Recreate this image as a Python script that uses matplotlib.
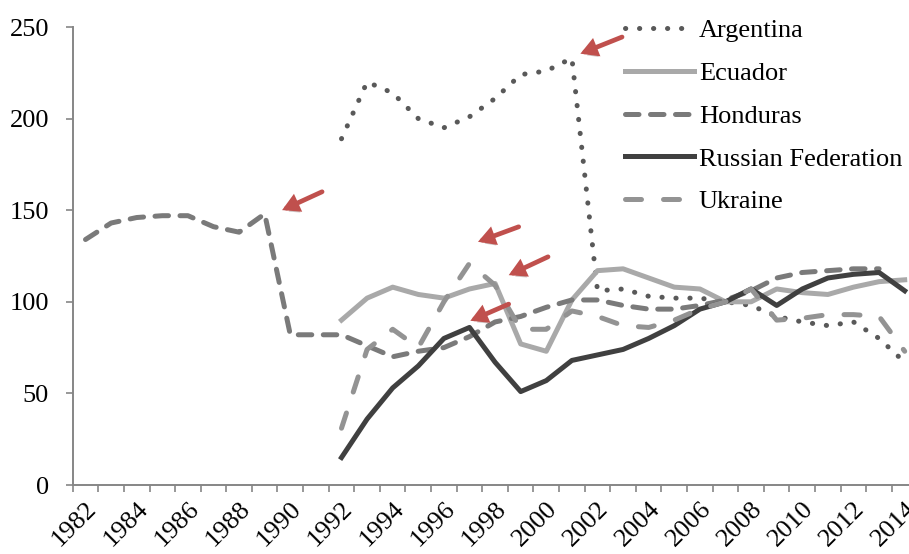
import numpy as np
import matplotlib
matplotlib.use("Agg")
import matplotlib.pyplot as plt
import matplotlib.patheffects as pe
from matplotlib.transforms import offset_copy

plt.rcParams['font.family'] = ['Liberation Serif', 'DejaVu Serif']

# ---- data -------------------------------------------------------------
years = list(range(1982, 2015))
tick_labels = [str(y) for y in years[::2]]

argentina_years = list(range(1992, 2015))
argentina = [189, 220, 214, 200, 195, 201, 211, 224, 226, 233, 106, 107,
             103, 102, 102, 100, 98, 92, 89, 87, 89, 80, 67]

ecuador_years = list(range(1992, 2015))
ecuador = [90, 102, 108, 104, 102, 107, 110, 77, 73, 101, 117, 118,
           113, 108, 107, 100, 100, 107, 105, 104, 108, 111, 112]

honduras_years = list(range(1982, 2014))
honduras = [134, 143, 146, 147, 147, 141, 138, 148, 82, 82, 82, 76,
            70, 73, 75, 81, 89, 92, 97, 101, 101, 98, 96, 96,
            98, 101, 106, 113, 116, 117, 118, 118]

russia_years = list(range(1992, 2015))
russia = [15, 36, 53, 65, 80, 86, 67, 51, 57, 68, 71, 74,
          80, 87, 96, 100, 107, 98, 107, 113, 115, 116, 106]

ukraine_years = list(range(1992, 2015))
ukraine = [31, 74, 85, 75, 100, 121, 109, 85, 85, 95, 92, 87,
           86, 90, 96, 100, 107, 90, 91, 93, 93, 92, 73]

# ---- figure -----------------------------------------------------------
fig = plt.figure(figsize=(9.09, 5.54), dpi=100)
ax = fig.add_axes([72.7 / 909, 69 / 554, (917.5 - 72.7) / 909, 458 / 554])

def idx(ys):
    return [y - years[0] for y in ys]

lw = 3.6
ax.plot(idx(argentina_years), argentina, color='#595959', lw=lw,
        linestyle=(0, (0.05, 2.75)), dash_capstyle='round',
        label='Argentina')
ax.plot(idx(ecuador_years), ecuador, color='#a9a9a9', lw=lw,
        solid_joinstyle='round', label='Ecuador')
ax.plot(idx(honduras_years), honduras, color='#7a7a7a', lw=lw,
        linestyle=(0, (2.7, 2.3)), dash_capstyle='round',
        label='Honduras')
ax.plot(idx(russia_years), russia, color='#404040', lw=lw,
        solid_joinstyle='round', label='Russian Federation')
ax.plot(idx(ukraine_years), ukraine, color='#939393', lw=lw,
        linestyle=(0, (3.2, 4.4)), dash_capstyle='round',
        label='Ukraine')

# ---- axes styling -----------------------------------------------------
axis_grey = '#868686'
ax.set_xlim(-0.5, len(years) - 0.5)
ax.set_ylim(0, 250)
ax.set_yticks([0, 50, 100, 150, 200, 250])
ax.tick_params(axis='y', labelsize=19, length=5, width=1.2,
               color=axis_grey, pad=12)

ax.set_xticks(np.arange(0, len(years), 2))
ax.set_xticklabels(tick_labels, rotation=45, ha='right',
                   rotation_mode='anchor', fontsize=19)
ax.set_xticks(np.arange(-0.5, len(years), 1), minor=True)
ax.tick_params(axis='x', which='major', length=0, pad=9)
ax.tick_params(axis='x', which='minor', length=5, width=1.2,
               color=axis_grey)

for side in ('top', 'right'):
    ax.spines[side].set_visible(False)
for side in ('left', 'bottom'):
    ax.spines[side].set_color(axis_grey)
    ax.spines[side].set_linewidth(1.4)

# ---- legend -----------------------------------------------------------
leg = ax.legend(loc='upper left', bbox_to_anchor=(625 / 909, 1 - 19 / 554),
                bbox_transform=fig.transFigure, frameon=False, fontsize=19,
                handlelength=2.6, handletextpad=0.2, labelspacing=0.73,
                borderpad=0, borderaxespad=0)

# ---- pointer arrows ---------------------------------------------------
red = '#c0504d'

def pointer(year, value, tip_pt, tail_pt):
    tip_tr = offset_copy(ax.transData, fig=fig, x=tip_pt[0], y=tip_pt[1],
                         units='points')
    ax.annotate('', xy=(year - years[0], value), xycoords=tip_tr,
                xytext=tail_pt, textcoords='offset points',
                arrowprops=dict(arrowstyle='-|>,head_length=0.75,head_width=0.42',
                                lw=3.4, color=red, shrinkA=0, shrinkB=0,
                                mutation_scale=10, joinstyle='miter',
                                path_effects=[pe.SimplePatchShadow(offset=(1.5, -2.5),
                                                                   alpha=0.25),
                                              pe.Normal()]))

pointer(2001, argentina[argentina_years.index(2001)], (6.1, 3.2), (30, 12))
pointer(1989, honduras[honduras_years.index(1989)], (12.5, 2.7), (28.8, 13.2))
pointer(1997, ukraine[ukraine_years.index(1997)], (6.1, 15.5), (29.3, 10.8))
pointer(1998, ecuador[ecuador_years.index(1998)], (9.8, 6.0), (28.3, 13.2))
pointer(1997, russia[russia_years.index(1997)], (0.6, 4.8), (27.6, 12.0))

fig.savefig('out.png', dpi=100)
